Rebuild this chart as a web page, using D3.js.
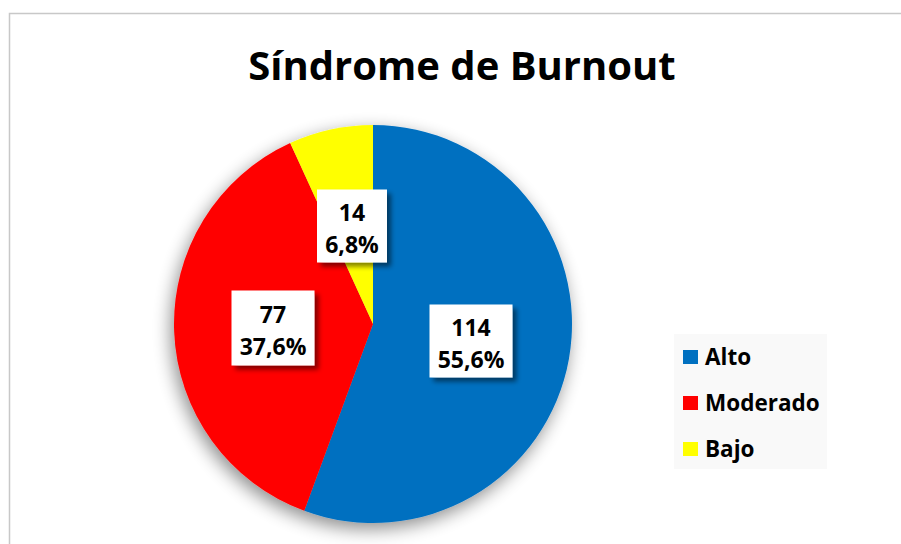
<!DOCTYPE html>
<html>
<head>
<meta charset="utf-8">
<script src="https://cdn.jsdelivr.net/npm/d3@7"></script>
<style>
  body { margin: 0; background: #fff; }
  text { font-family: "Open Sans", "Noto Sans", sans-serif; font-weight: bold; }
</style>
</head>
<body>
<div id="chart"></div>
<script>
// datos del gráfico
const categorias = ["Alto", "Moderado", "Bajo"];
const valores = [114, 77, 14];
const porcentajes = ["55,6%", "37,6%", "6,8%"];
const colores = ["#0070c0", "#ff0000", "#ffff00"];

const width = 901, height = 544;

const svg = d3.select("#chart")
  .append("svg")
  .attr("width", width)
  .attr("height", height);

const defs = svg.append("defs");
const sombra = defs.append("filter").attr("id", "sombra")
  .attr("x", "-30%").attr("y", "-30%").attr("width", "160%").attr("height", "160%");
sombra.append("feGaussianBlur").attr("in", "SourceAlpha").attr("stdDeviation", 9);
sombra.append("feOffset").attr("dx", -3).attr("dy", 6).attr("result", "blur");
sombra.append("feComponentTransfer").append("feFuncA").attr("type", "linear").attr("slope", 0.45);
const m1 = sombra.append("feMerge");
m1.append("feMergeNode");
m1.append("feMergeNode").attr("in", "SourceGraphic");

const sombraEtq = defs.append("filter").attr("id", "sombraEtq")
  .attr("x", "-30%").attr("y", "-30%").attr("width", "160%").attr("height", "160%");
sombraEtq.append("feGaussianBlur").attr("in", "SourceAlpha").attr("stdDeviation", 2.5);
sombraEtq.append("feOffset").attr("dx", 4).attr("dy", 4);
sombraEtq.append("feComponentTransfer").append("feFuncA").attr("type", "linear").attr("slope", 0.5);
const m2 = sombraEtq.append("feMerge");
m2.append("feMergeNode");
m2.append("feMergeNode").attr("in", "SourceGraphic");

// borde del área del gráfico
svg.append("rect")
  .attr("x", 9.5).attr("y", 13.5)
  .attr("width", width).attr("height", height)
  .attr("fill", "#fff")
  .attr("stroke", "#c8c8c8")
  .attr("stroke-width", 1.5);

// título
svg.append("text")
  .attr("x", 462).attr("y", 80)
  .attr("text-anchor", "middle")
  .style("font-size", "40px")
  .attr("fill", "#000")
  .text("Síndrome de Burnout");

// pastel
const cx = 373, cy = 324, r = 199;
const pie = d3.pie().sort(null).value(d => d)(valores);
const arc = d3.arc().innerRadius(0).outerRadius(r);

const g = svg.append("g").attr("transform", `translate(${cx},${cy})`);
g.append("g").attr("filter", "url(#sombra)")
  .selectAll("path")
  .data(pie)
  .enter()
  .append("path")
  .attr("d", arc)
  .attr("fill", (d, i) => colores[i]);

// etiquetas de datos
const posEtq = [
  { x: 471, y: 341, w: 83, h: 73 },
  { x: 273, y: 328, w: 83, h: 75 },
  { x: 352, y: 226, w: 70, h: 73 }
];
const etq = svg.selectAll(".etq")
  .data(pie)
  .enter()
  .append("g")
  .attr("class", "etq")
  .attr("transform", (d, i) => `translate(${posEtq[i].x},${posEtq[i].y})`);

etq.append("rect")
  .attr("x", (d, i) => -posEtq[i].w / 2)
  .attr("y", (d, i) => -posEtq[i].h / 2)
  .attr("width", (d, i) => posEtq[i].w)
  .attr("height", (d, i) => posEtq[i].h)
  .attr("fill", "#fff")
  .attr("filter", "url(#sombraEtq)");

etq.append("text")
  .attr("text-anchor", "middle")
  .attr("y", -5)
  .style("font-size", "23px")
  .text((d, i) => valores[i]);

etq.append("text")
  .attr("text-anchor", "middle")
  .attr("y", 27)
  .style("font-size", "23px")
  .text((d, i) => porcentajes[i]);

// leyenda
const leyenda = svg.append("g").attr("transform", "translate(674,334)");
leyenda.append("rect")
  .attr("width", 153).attr("height", 135)
  .attr("fill", "#f9f9f9");

const item = leyenda.selectAll(".item")
  .data(categorias)
  .enter()
  .append("g")
  .attr("class", "item")
  .attr("transform", (d, i) => `translate(9,${16 + i * 46})`);

item.append("rect")
  .attr("width", 15).attr("height", 14)
  .attr("fill", (d, i) => colores[i]);

item.append("text")
  .attr("x", 22).attr("y", 15)
  .style("font-size", "22.5px")
  .text(d => d);
</script>
</body>
</html>
